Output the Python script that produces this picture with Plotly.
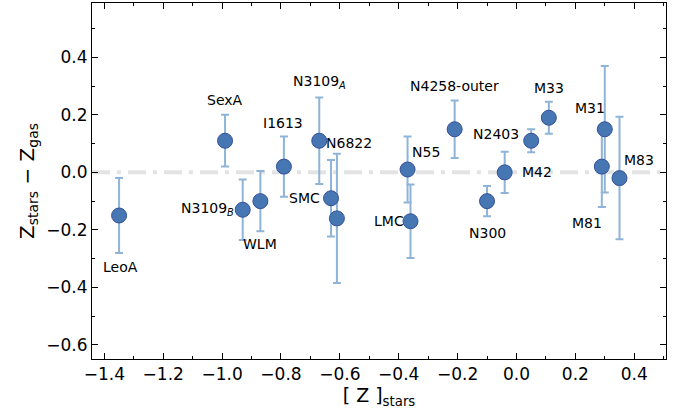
import plotly.graph_objects as go

names = ["LeoA", "SexA", "N3109<sub><i>B</i></sub>", "WLM", "I1613", "N3109<sub><i>A</i></sub>",
         "SMC", "N6822", "N55", "LMC", "N4258-outer", "N300", "M42", "N2403", "M33",
         "M31", "M81", "M83"]
z_stars = [-1.35, -0.99, -0.93, -0.87, -0.79, -0.67, -0.63, -0.61, -0.37, -0.36,
           -0.21, -0.10, -0.04, 0.05, 0.11, 0.30, 0.29, 0.35]
dz = [-0.15, 0.11, -0.13, -0.10, 0.02, 0.11, -0.09, -0.16, 0.01, -0.17,
      0.15, -0.10, 0.00, 0.11, 0.19, 0.15, 0.02, -0.02]
dz_err = [0.13, 0.09, 0.105, 0.105, 0.105, 0.15, 0.133, 0.225, 0.115, 0.128,
          0.10, 0.053, 0.072, 0.04, 0.056, 0.22, 0.14, 0.213]

# label pixel offsets (xshift, yshift)
label_shift = [(1, -51), (0, 41), (-35, 1), (0, -43), (-1, 44), (0, 59),
               (-27, 0), (12, 75), (18, 18), (-22, 0), (0, 43), (0, -32),
               (32, 0), (-35, 7), (0, 30), (-15, 21), (-15, -56), (20, 18)]

fig = go.Figure()

fig.add_shape(type="line", xref="paper", x0=0, x1=1, yref="y", y0=0, y1=0,
              line=dict(color="#e3e3e3", width=4, dash="18px,7px,4px,7px"), layer="below")

fig.add_trace(go.Scatter(
    x=z_stars, y=dz, mode="markers",
    marker=dict(size=15, color="#4677b2", line=dict(color="#34509a", width=1)),
    error_y=dict(type="data", array=dz_err, visible=True, color="#8fb4d8",
                 thickness=2, width=4),
    showlegend=False, cliponaxis=False,
))

for n, x, y, (sx, sy) in zip(names, z_stars, dz, label_shift):
    fig.add_annotation(x=x, y=y, text=n, showarrow=False, xshift=sx, yshift=sy,
                       font=dict(size=14, color="black", family="DejaVu Sans"))

axis_common = dict(
    showgrid=False, zeroline=False, showline=True, linecolor="black", linewidth=1,
    mirror="ticks", ticks="inside", ticklen=6, tickwidth=1, tickcolor="black",
    tickfont=dict(size=17, family="DejaVu Sans", color="black"),
)
fig.update_xaxes(range=[-1.442, 0.508], tickmode="array",
                 tickvals=[-1.4, -1.2, -1.0, -0.8, -0.6, -0.4, -0.2, 0.0, 0.2, 0.4],
                 ticktext=["−1.4", "−1.2", "−1.0", "−0.8", "−0.6", "−0.4", "−0.2", "0.0", "0.2", "0.4"],
                 minor=dict(ticks="inside", ticklen=3, tickcolor="black", dtick=0.1, tick0=0),
                 title=dict(text="[ Z ]<sub>stars</sub>", font=dict(size=19, family="DejaVu Sans", color="black"),
                            standoff=4),
                 **axis_common)
fig.update_yaxes(range=[-0.649, 0.589], tickmode="array",
                 tickvals=[-0.6, -0.4, -0.2, 0.0, 0.2, 0.4],
                 ticktext=["−0.6", "−0.4", "−0.2", "0.0", "0.2", "0.4"],
                 minor=dict(ticks="inside", ticklen=3, tickcolor="black", dtick=0.1, tick0=0),
                 title=dict(text="Z<sub>stars</sub> − Z<sub>gas</sub>", font=dict(size=20, family="DejaVu Sans", color="black"),
                            standoff=6),
                 **axis_common)

fig.update_layout(
    width=684, height=411,
    margin=dict(l=92, r=18, t=3, b=52),
    plot_bgcolor="white", paper_bgcolor="white",
    font=dict(family="DejaVu Sans"),
)

fig.write_html("out.html")
